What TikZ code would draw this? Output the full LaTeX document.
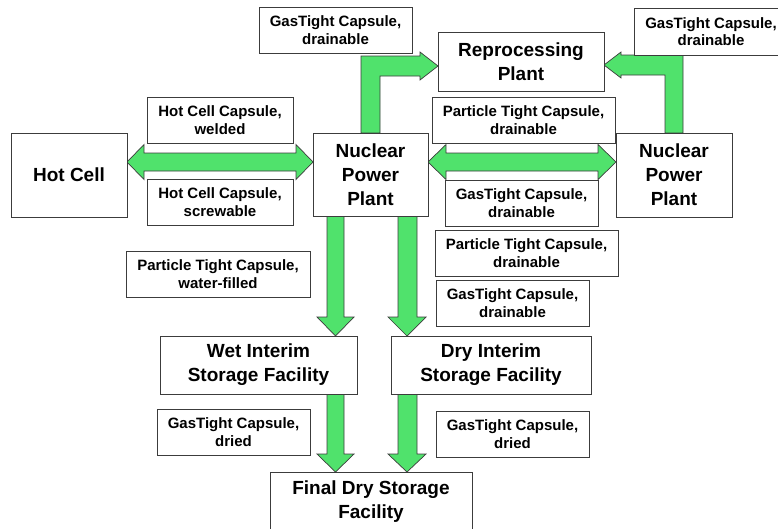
\documentclass[tikz,border=0pt]{standalone}
\usepackage{fontspec}
\setmainfont{Liberation Sans}
\definecolor{arrowgreen}{RGB}{80,226,108}
\definecolor{edgegray}{RGB}{60,60,60}
\begin{document}
\begin{tikzpicture}[x=1pt,y=-1pt,
  box/.style={draw=edgegray, line width=0.9pt, fill=white, inner sep=0pt, align=center,
    font=\fontsize{19}{24}\selectfont\bfseries},
  lbl/.style={draw=edgegray, line width=0.9pt, fill=white, inner sep=0pt, align=center,
    minimum height=46pt, font=\fontsize{15}{17.5}\selectfont\bfseries},
  blockarrow/.style={fill=arrowgreen, draw=edgegray, line width=0.7pt, line join=miter}]
\useasboundingbox (0,0) rectangle (778,528);

% block arrows
\draw[blockarrow] (127,162) -- (144,144.5) -- (144,153) -- (296,153) -- (296,144.5) -- (313,162)
  -- (296,179.5) -- (296,171) -- (144,171) -- (144,179.5) -- cycle;
\draw[blockarrow] (428,162) -- (446,144.5) -- (446,153) -- (598,153) -- (598,144.5) -- (616,162)
  -- (598,179.5) -- (598,171) -- (446,171) -- (446,179.5) -- cycle;
\draw[blockarrow] (361,133) -- (361,56) -- (420,56) -- (420,52) -- (438,66) -- (420,80)
  -- (420,76) -- (380,76) -- (380,133) -- cycle;
\draw[blockarrow] (683,133) -- (683,55) -- (621,55) -- (621,52) -- (604,65) -- (621,78)
  -- (621,75) -- (665,75) -- (665,133) -- cycle;
\draw[blockarrow] (327,216) -- (327,317) -- (317,317) -- (335.5,336) -- (354,317) -- (344,317) -- (344,216) -- cycle;
\draw[blockarrow] (398,216) -- (398,317) -- (388,317) -- (407,336) -- (426,317) -- (417,317) -- (417,216) -- cycle;
\draw[blockarrow] (327,394) -- (327,454) -- (317,454) -- (335.5,472) -- (354,454) -- (344,454) -- (344,394) -- cycle;
\draw[blockarrow] (398,394) -- (398,454) -- (388,454) -- (407,472) -- (426,454) -- (417,454) -- (417,394) -- cycle;

% main boxes
\node[box, minimum width=116pt, minimum height=84pt] (hc) at (69,175) {Hot Cell};
\node[box, minimum width=115pt, minimum height=83pt] (npp) at (370.5,174.5) {Nuclear\\Power\\Plant};
\node[box, minimum width=116pt, minimum height=84pt] (npp2) at (674,175) {Nuclear\\Power\\Plant};
\node[box, minimum width=166pt, minimum height=59pt] (rep) at (521,61.5) {Reprocessing\\Plant};
\node[box, minimum width=197pt, minimum height=58pt] (wet) at (258.5,365) {Wet Interim\\Storage Facility};
\node[box, minimum width=200pt, minimum height=58pt] (dry) at (491,365) {Dry Interim\\Storage Facility};
\node[box, minimum width=202pt, minimum height=60pt] (final) at (371,502) {Final Dry Storage\\Facility};

% capsule labels
\node[lbl, minimum width=146pt] (hcw) at (220,120) {Hot Cell Capsule,\\welded};
\node[lbl, minimum width=146pt] (hcs) at (220,202) {Hot Cell Capsule,\\screwable};
\node[lbl, minimum width=153pt] (gtl) at (335.5,30) {GasTight Capsule,\\drainable};
\node[lbl, minimum width=154pt, minimum height=47pt] (gtr) at (711,31.5) {GasTight Capsule,\\drainable};
\node[lbl, minimum width=183pt] (ptd1) at (523.5,120) {Particle Tight Capsule,\\drainable};
\node[lbl, minimum width=153pt] (gtd) at (521.5,203) {GasTight Capsule,\\drainable};
\node[lbl, minimum width=184pt] (ptw) at (218,274) {Particle Tight Capsule,\\water-filled};
\node[lbl, minimum width=183pt] (ptd2) at (526.5,253) {Particle Tight Capsule,\\drainable};
\node[lbl, minimum width=153pt] (gtd2) at (512.5,303) {GasTight Capsule,\\drainable};
\node[lbl, minimum width=153pt] (gdl) at (233.5,432) {GasTight Capsule,\\dried};
\node[lbl, minimum width=153pt] (gdr) at (512.5,434) {GasTight Capsule,\\dried};
\end{tikzpicture}
\end{document}
